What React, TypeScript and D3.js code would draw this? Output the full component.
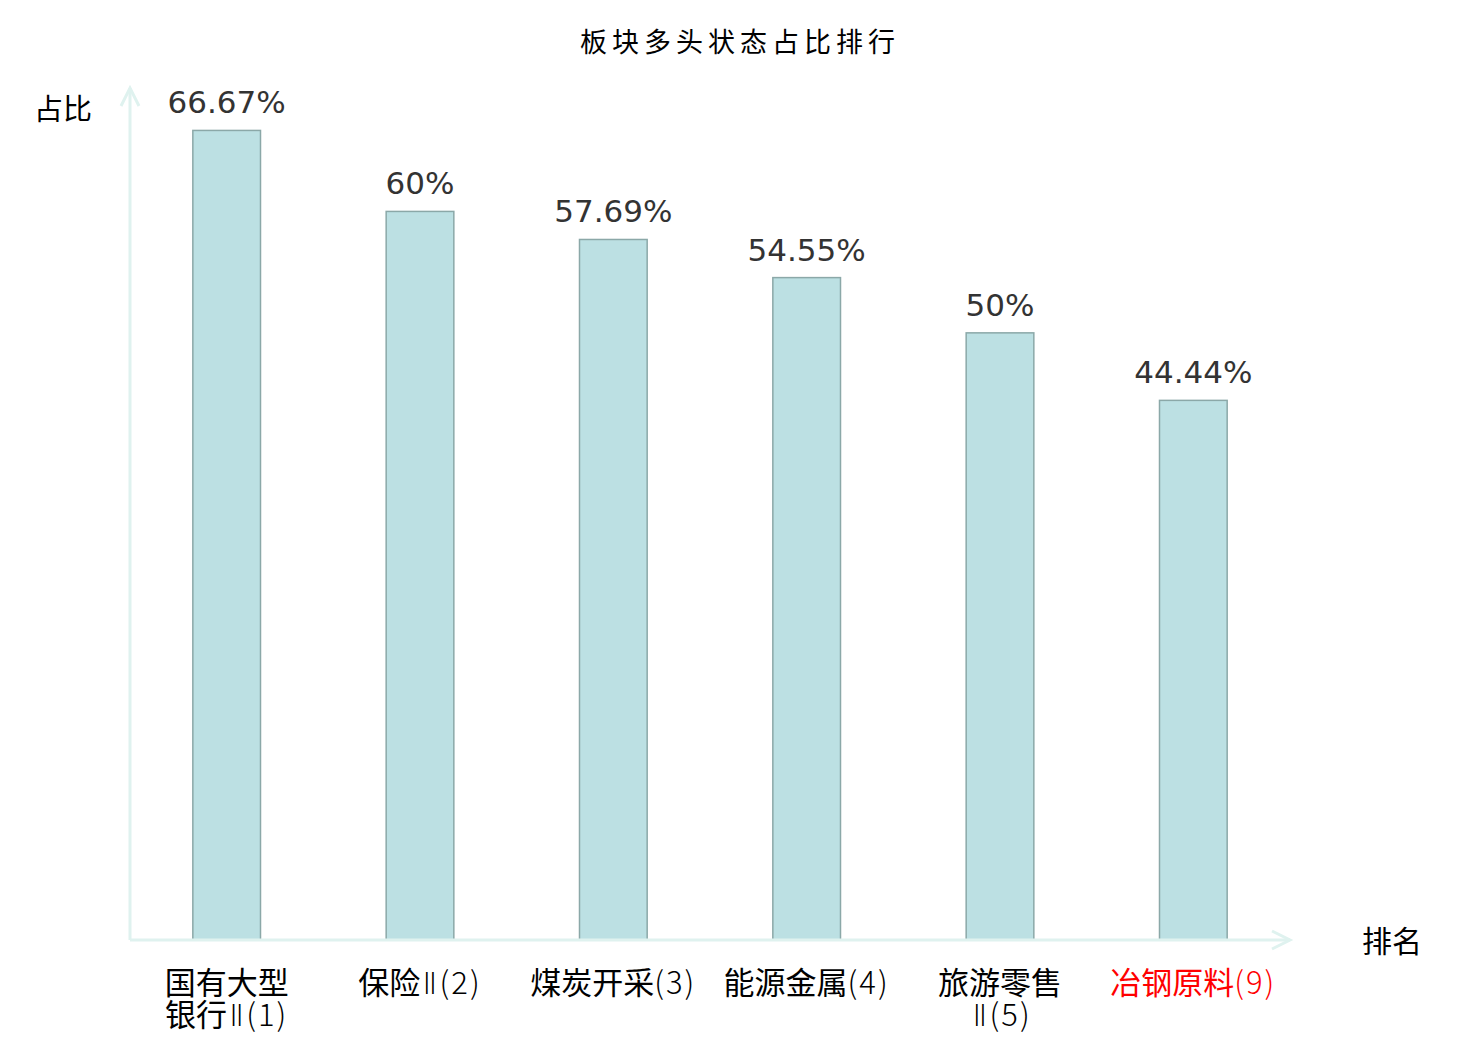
import React from "react";
import * as d3 from "d3";

const categories = ["国有大型银行Ⅱ(1)", "保险Ⅱ(2)", "煤炭开采(3)", "能源金属(4)", "旅游零售Ⅱ(5)", "冶钢原料(9)"];
const values = [66.67, 60, 57.69, 54.55, 50, 44.44];
const valueLabels = ["66.67%", "60%", "57.69%", "54.55%", "50%", "44.44%"];
const highlightCategory = "冶钢原料(9)";
const yMax = 70;
const titleText = "板块多头状态占比排行";
const yName = "占比";
const xName = "排名";

const W = 1480;
const H = 1040;
const left = 130;
const right = 1290;
const bottom = 940;
const top = 90;

const CJK = "'Noto Sans CJK SC', 'Noto Sans', sans-serif";
const LATIN = "'DejaVu Sans', sans-serif";
const ROMAN = "'DejaVu Sans', 'Noto Sans CJK SC', sans-serif";

function wrap(s: string): string[] {
  if (s.length > 7) return [s.slice(0, 4), s.slice(4)];
  return [s];
}

type Run = { t: string; kind: "cjk" | "roman" | "latin" };
function runs(s: string): Run[] {
  const out: Run[] = [];
  for (const ch of s) {
    const kind: Run["kind"] = /[\u4e00-\u9fff]/.test(ch) ? "cjk" : /[\u2160-\u217f]/.test(ch) ? "roman" : "latin";
    const last = out[out.length - 1];
    if (last && last.kind === kind) last.t += ch;
    else out.push({ t: ch, kind });
  }
  return out;
}

function renderRuns(s: string) {
  return runs(s).map((r, k) => {
    if (r.kind === "cjk") return <tspan key={k}>{r.t}</tspan>;
    if (r.kind === "roman")
      return (
        <tspan key={k} fontFamily={ROMAN} fontWeight={200} fontSize={31} dx={2} letterSpacing={2}>{r.t}</tspan>
      );
    return (
      <tspan key={k} fontWeight={300} letterSpacing={2}>{r.t}</tspan>
    );
  });
}

export default function App() {
  const x = d3.scaleBand<string>().domain(categories).range([left, right]).paddingInner(0).paddingOuter(0);
  const y = d3.scaleLinear().domain([0, yMax]).range([bottom, top]);
  const bw = x.bandwidth() * 0.35;
  const axisColor = "#dff2ef";
  return (
    <svg width={W} height={H} style={{ position: "absolute", left: 0, top: 0 }}>
      <rect width={W} height={H} fill="#fff" />
      <text x={740} y={52} textAnchor="middle" fontFamily={CJK} fontSize={27} fill="#000" letterSpacing={5}>
        {titleText}
      </text>
      <text x={63} y={120} textAnchor="middle" fontFamily={CJK} fontSize={29} fill="#000">{yName}</text>
      <text x={1392} y={952} textAnchor="middle" fontFamily={CJK} fontSize={30} fill="#000">{xName}</text>
      {categories.map((c, i) => {
        const cx = (x(c) as number) + x.bandwidth() / 2;
        const v = values[i];
        const lines = wrap(c);
        return (
          <g key={c}>
            <rect x={cx - bw / 2} y={y(v)} width={bw} height={bottom - y(v)} fill="#bce0e3" stroke="#8ba8a8" strokeWidth={1.5} />
            <text x={cx} y={y(v) - 17} textAnchor="middle" fontFamily={LATIN} fontSize={31} fill="#333">{valueLabels[i]}</text>
            <text x={cx} y={994} textAnchor="middle" fontFamily={CJK} fontSize={31}
              fill={c === highlightCategory ? "#ff0000" : "#000"}>
              {lines.map((ln, j) => (
                <tspan key={j} x={cx} dy={j === 0 ? 0 : 32}>{renderRuns(ln)}</tspan>
              ))}
            </text>
          </g>
        );
      })}
      <line x1={left} y1={bottom} x2={right} y2={bottom} stroke={axisColor} strokeWidth={3} />
      <polyline points={`${right - 18},${bottom - 9} ${right},${bottom} ${right - 18},${bottom + 9}`} fill="none" stroke={axisColor} strokeWidth={3} />
      <line x1={left} y1={bottom} x2={left} y2={88} stroke={axisColor} strokeWidth={3} />
      <polyline points={`${left - 9},${106} ${left},${88} ${left + 9},${106}`} fill="none" stroke={axisColor} strokeWidth={3} />
    </svg>
  );
}
